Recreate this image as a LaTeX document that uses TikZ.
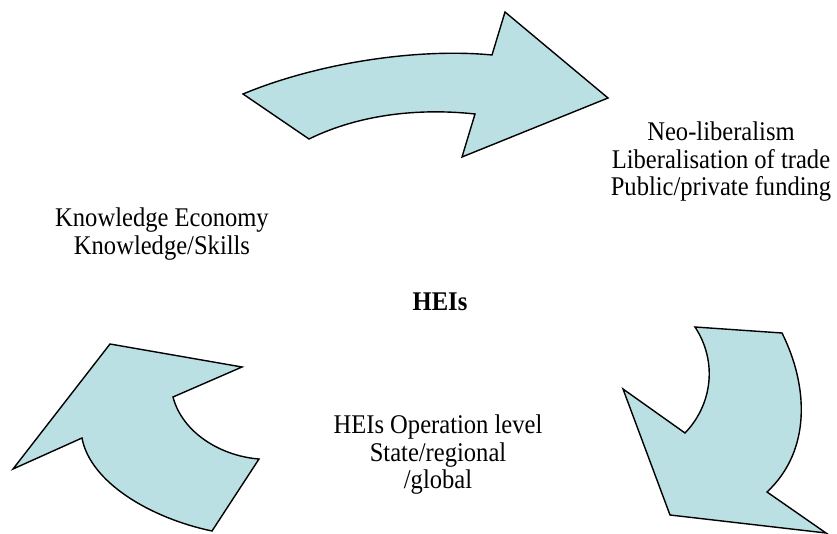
\documentclass[tikz,border=0pt]{standalone}
\usepackage{fontspec}
\setmainfont{Liberation Serif}
\newfontfamily\tnr[FakeStretch=0.91]{Liberation Serif}
\definecolor{arrowfill}{HTML}{BBE0E3}
\tikzset{
  bigarrow/.style={fill=arrowfill, draw=black, line width=1.4pt, line join=miter},
  lbl/.style={align=center, inner sep=0pt, font=\tnr\fontsize{27}{27.5}\selectfont},
}
\begin{document}
\begin{tikzpicture}[x=1pt,y=-1pt]
\useasboundingbox (0,0) rectangle (837,534);
% top arrow
\draw[bigarrow] (243,94) .. controls (320,62) and (420,48) .. (492,55)
  -- (505,12) -- (608,98) -- (462,157) -- (475,114)
  .. controls (420,108) and (360,114) .. (309,139) -- cycle;
% right arrow
\draw[bigarrow] (695,327) -- (782,333) .. controls (808,385) and (812,450) .. (767,492)
  -- (826,533) -- (670,515) -- (623,389) -- (685,433)
  .. controls (712,405) and (718,362) .. (695,327) -- cycle;
% left arrow
\draw[bigarrow] (110,344) -- (242,367) -- (173,397)
  .. controls (182,432) and (220,456) .. (259,459)
  -- (212,531) .. controls (150,518) and (90,482) .. (82,438)
  -- (13,469) -- cycle;
% texts
\node[lbl] (neo) at (721,162) {Neo-liberalism\\Liberalisation of trade\\Public/private funding};
\node[lbl] (ke) at (162,234) {Knowledge Economy\\Knowledge/Skills};
\node[lbl, font=\tnr\fontsize{27}{27.5}\selectfont\bfseries] (hei) at (440,302) {HEIs};
\node[lbl] (op) at (438,455) {HEIs Operation level\\State/regional\\/global};
\end{tikzpicture}
\end{document}
